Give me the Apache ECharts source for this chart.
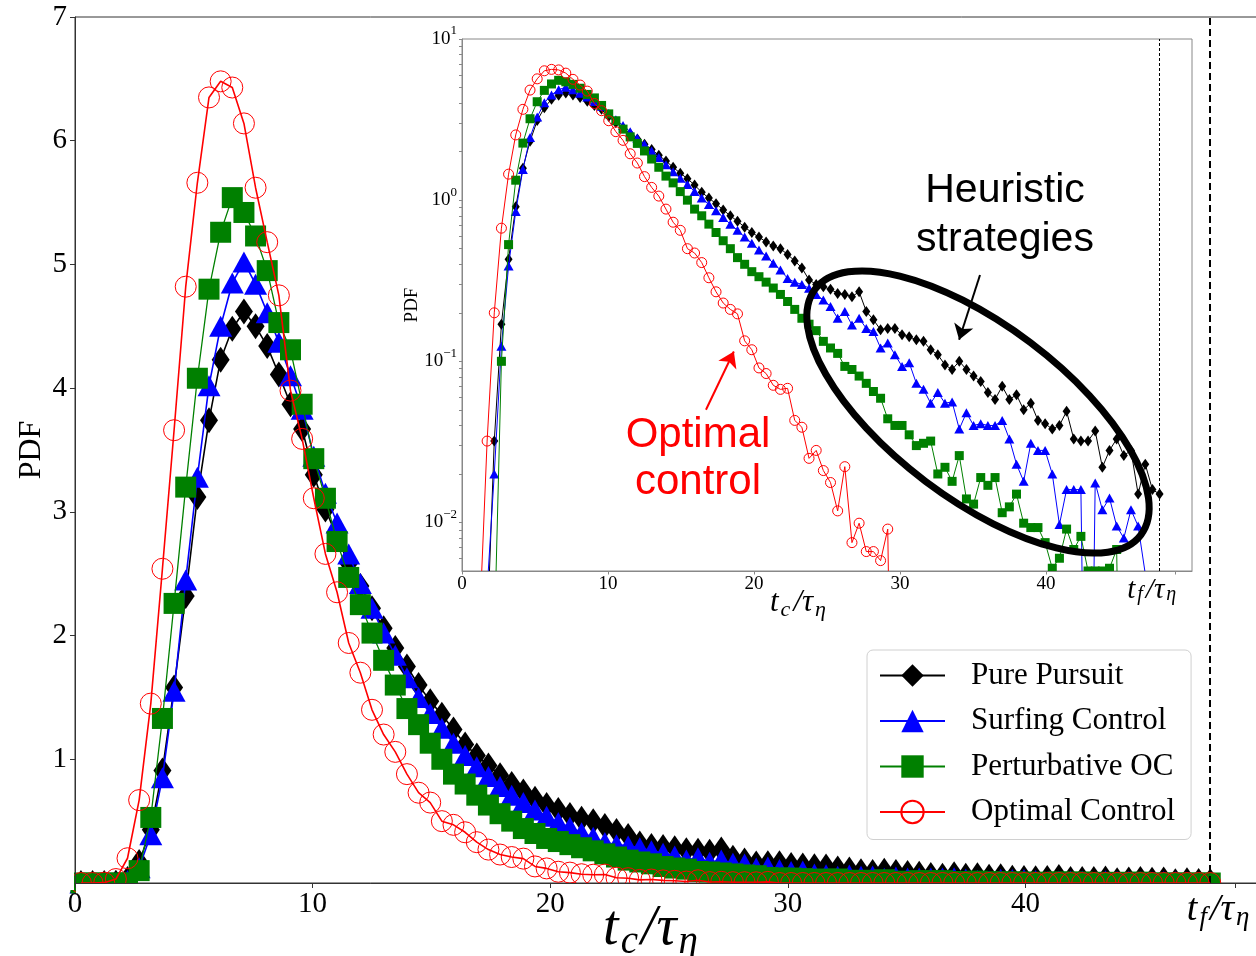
<!DOCTYPE html>
<html>
<head>
<meta charset="utf-8">
<script src="https://cdn.jsdelivr.net/npm/echarts@6/dist/echarts.min.js"></script>
<style>
  html, body { margin: 0; padding: 0; background: #fff; }
  #chart { width: 1256px; height: 956px; }
</style>
</head>
<body>
<div id="chart"></div>
<script>
// bin centres of the capture-time histogram (t_c / tau_eta)
const binCenters = [
  0.25, 0.74, 1.23, 1.72, 2.21, 2.70, 3.19, 3.68, 4.17, 4.66,
  5.15, 5.64, 6.13, 6.62, 7.11, 7.60, 8.09, 8.58, 9.07, 9.56,
  10.05, 10.54, 11.03, 11.52, 12.01, 12.50, 12.99, 13.48, 13.97, 14.46,
  14.95, 15.44, 15.93, 16.42, 16.91, 17.40, 17.89, 18.38, 18.87, 19.36,
  19.85, 20.34, 20.83, 21.32, 21.81, 22.30, 22.79, 23.28, 23.77, 24.26,
  24.75, 25.24, 25.73, 26.22, 26.71, 27.20, 27.69, 28.18, 28.67, 29.16,
  29.65, 30.14, 30.63, 31.12, 31.61, 32.10, 32.59, 33.08, 33.57, 34.06,
  34.55, 35.04, 35.53, 36.02, 36.51, 37.00, 37.49, 37.98, 38.47, 38.96,
  39.45, 39.94, 40.43, 40.92, 41.41, 41.90, 42.39, 42.88, 43.37, 43.86,
  44.35, 44.84, 45.33, 45.82, 46.31, 46.80, 47.29, 47.78
]

const purePursuit = [
  0, 0, 0, 0.002, 0.032, 0.17, 0.43, 0.91, 1.58, 2.32,
  3.12, 3.74, 4.23, 4.48, 4.62, 4.50, 4.34, 4.11, 3.87, 3.67,
  3.30, 3.02, 2.80, 2.58, 2.40, 2.22, 2.06, 1.90, 1.75, 1.60,
  1.47, 1.36, 1.24, 1.12, 1.03, 0.95, 0.87, 0.80, 0.74, 0.68,
  0.63, 0.59, 0.55, 0.52, 0.50, 0.46, 0.42, 0.38, 0.32, 0.30,
  0.29, 0.28, 0.264, 0.26, 0.252, 0.27, 0.204, 0.181, 0.157, 0.160,
  0.160, 0.146, 0.142, 0.136, 0.133, 0.118, 0.110, 0.095, 0.089, 0.100,
  0.089, 0.081, 0.075, 0.064, 0.058, 0.070, 0.058, 0.062, 0.050, 0.055,
  0.043, 0.041, 0.038, 0.040, 0.049, 0.033, 0.032, 0.032, 0.037, 0.022,
  0.028, 0.033, 0.026, 0.028, 0.015, 0.023, 0.016, 0.015
]

const surfingControl = [
  0, 0, 0, 0.0038, 0.020, 0.124, 0.39, 0.85, 1.55, 2.45,
  3.28, 4.02, 4.50, 4.85, 5.02, 4.84, 4.61, 4.37, 4.10, 3.83,
  3.45, 3.15, 2.91, 2.66, 2.42, 2.22, 2.02, 1.84, 1.66, 1.50,
  1.37, 1.25, 1.13, 1.03, 0.94, 0.86, 0.78, 0.71, 0.65, 0.59,
  0.54, 0.49, 0.45, 0.406, 0.369, 0.327, 0.31, 0.30, 0.284, 0.26,
  0.240, 0.219, 0.185, 0.204, 0.168, 0.185, 0.160, 0.153, 0.121, 0.130,
  0.110, 0.093, 0.098, 0.073, 0.067, 0.055, 0.064, 0.055, 0.056, 0.038,
  0.048, 0.040, 0.041, 0.040, 0.040, 0.043, 0.033, 0.023, 0.018, 0.031,
  0.028, 0.028, 0.020, 0.0097, 0.016, 0.016, 0.016, 0, 0.0176, 0.012,
  0.0142, 0.0095, 0.008, 0.012, 0.0095, 0.0048, 0, 0
]

const perturbativeOC = [
  0, 0, 0, 0, 0.0018, 0.10, 0.53, 1.33, 2.26, 3.20,
  4.08, 4.80, 5.26, 5.54, 5.42, 5.23, 4.95, 4.53, 4.31, 3.87,
  3.43, 3.11, 2.76, 2.47, 2.25, 2.02, 1.80, 1.60, 1.41, 1.28,
  1.13, 1.00, 0.88, 0.80, 0.71, 0.63, 0.56, 0.50, 0.44, 0.40,
  0.36, 0.335, 0.31, 0.285, 0.26, 0.235, 0.21, 0.185, 0.17, 0.155,
  0.133, 0.121, 0.112, 0.093, 0.089, 0.081, 0.073, 0.065, 0.059, 0.044,
  0.040, 0.040, 0.035, 0.030, 0.031, 0.032, 0.020, 0.022, 0.018, 0.026,
  0.014, 0.013, 0.019, 0.017, 0.019, 0.0115, 0.0125, 0.015, 0.0099, 0.0093,
  0.0093, 0.0075, 0.0052, 0.006, 0.0091, 0.0068, 0.0082, 0.005, 0.005, 0.005,
  0.0052, 0.0068, 0, 0, 0, 0, 0, 0
]

const optimalControl = [
  0, 0, 0.0027, 0.032, 0.20, 0.67, 1.45, 2.54, 3.66, 4.82,
  5.66, 6.35, 6.48, 6.43, 6.14, 5.62, 5.18, 4.75, 3.98, 3.59,
  3.11, 2.66, 2.35, 1.94, 1.70, 1.40, 1.20, 1.06, 0.88, 0.73,
  0.65, 0.50, 0.47, 0.41, 0.33, 0.27, 0.23, 0.21, 0.197, 0.134,
  0.118, 0.091, 0.084, 0.071, 0.067, 0.068, 0.043, 0.039, 0.025, 0.028,
  0.021, 0.0177, 0.0118, 0.0222, 0.0075, 0.0099, 0.0066, 0.0066, 0.0058, 0.0091,
  0, 0, 0, 0, 0, 0, 0, 0, 0, 0,
  0, 0, 0, 0, 0, 0, 0, 0, 0, 0,
  0, 0, 0, 0, 0, 0, 0, 0, 0, 0,
  0, 0, 0, 0, 0, 0, 0, 0
]

const seriesNames = ['Pure Pursuit', 'Surfing Control', 'Perturbative OC', 'Optimal Control']
const mainXTicks = [0, 10, 20, 30, 40, 48.85]
const insetXTicks = [0, 10, 20, 30, 40, 48.85]
const insetYLabels = [0.01, 0.1, 1, 10]
const insetYTickMarks = [
  0.006, 0.007, 0.008, 0.009, 0.01, 0.02, 0.03, 0.04, 0.05, 0.06, 0.07, 0.08, 0.09,
  0.1, 0.2, 0.3, 0.4, 0.5, 0.6, 0.7, 0.8, 0.9, 1, 2, 3, 4, 5, 6, 7, 8, 9, 10
]
const tfTick = 48.85
const tfLine = 47.75
// annotation arrows in inset data coordinates: [x, pdf]
const heuristicArrow = [[35.48, 0.343], [34.05, 0.136]]
const optimalArrow = [[16.71, 0.0501], [18.62, 0.115]]

const serif = 'Liberation Serif'
const colors = ['#000000', '#0000ff', '#008000', '#ff0000']
const allValues = [purePursuit, surfingControl, perturbativeOC, optimalControl]
const logFloor = 1e-5

const mainMarkers = [
  { symbol: 'diamond', size: [18, 26] },
  { symbol: 'triangle', size: [23, 21] },
  { symbol: 'rect', size: [21, 21] },
  { symbol: 'circle', size: [21, 21] }
]
const insetMarkers = [
  { symbol: 'diamond', size: [8, 11] },
  { symbol: 'triangle', size: [10, 9] },
  { symbol: 'rect', size: [9, 9] },
  { symbol: 'circle', size: [10, 10] }
]

// rich styles for "t_c / tau_eta" style labels; n is for plain numbers, e pads the right side
const mathRich = (big, small, shift, num, tail) => ({
  i: { fontFamily: serif, fontStyle: 'italic', fontSize: big, color: '#000', padding: [0, 1, 0, 1] },
  s: { fontFamily: serif, fontStyle: 'italic', fontSize: small, color: '#000', padding: [shift * 2, 2, 0, 1] },
  n: { fontFamily: serif, fontSize: num || big, color: '#000' },
  e: { width: tail || 0, fontSize: small }
})
const tcLabel = '{i|t}{s|c}{i|/τ}{s|η}'
const tfLabel = '{i|t}{s|f}{i|/τ}{s|η}{e| }'

const buildSeries = (values, k, inset) => {
  const mk = inset ? insetMarkers[k] : mainMarkers[k]
  const hollow = k === 3
  const data = binCenters.map((x, i) => [x, inset ? (values[i] > 0 ? values[i] : logFloor) : values[i]])
  return {
    type: 'line',
    name: seriesNames[k],
    xAxisIndex: inset ? 1 : 0,
    yAxisIndex: inset ? 1 : 0,
    data,
    symbol: mk.symbol,
    symbolSize: mk.size,
    showAllSymbol: true,
    clip: true,
    z: 2 + k,
    lineStyle: { color: colors[k], width: inset ? 1 : (k === 2 ? 1.3 : 1.6) },
    itemStyle: hollow
      ? { color: 'rgba(255,255,255,0)', borderColor: colors[k], borderWidth: 1 }
      : { color: colors[k], borderColor: colors[k], borderWidth: 0 },
    emphasis: { disabled: true },
    animation: false
  }
}

const series = []
allValues.forEach((v, k) => series.push(buildSeries(v, k, false)))
allValues.forEach((v, k) => series.push(buildSeries(v, k, true)))

// vertical t_f lines and the two annotation arrows
series[0].markLine = {
  silent: true, symbol: 'none', animation: false,
  label: { show: false },
  lineStyle: { color: '#000', type: [7, 4], width: 2 },
  data: [{ xAxis: tfLine }]
}
series[4].markLine = {
  silent: true, symbol: ['none', 'arrow'], symbolSize: 15, animation: false,
  label: { show: false },
  lineStyle: { color: '#000', width: 2, type: 'solid' },
  data: [
    [{ xAxis: tfLine, yAxis: 0.005, symbol: 'none', lineStyle: { type: [3, 2], width: 1 } },
     { xAxis: tfLine, yAxis: 10, symbol: 'none' }],
    [{ coord: heuristicArrow[0] }, { coord: heuristicArrow[1] }]
  ]
}
series[7].markLine = {
  silent: true, symbol: ['none', 'arrow'], symbolSize: 15, animation: false,
  label: { show: false },
  lineStyle: { color: '#ff0000', width: 2, type: 'solid' },
  data: [[{ coord: optimalArrow[0] }, { coord: optimalArrow[1] }]]
}

const chart = echarts.init(document.getElementById('chart'))
chart.setOption({
  backgroundColor: '#fff',
  animation: false,
  grid: [
    { left: 75, top: 17, width: 1188, height: 866, outerBoundsMode: 'none', containLabel: false, show: true, borderColor: '#333', borderWidth: 1, backgroundColor: '#fff' },
    { left: 462, top: 39, width: 730, height: 532, outerBoundsMode: 'none', containLabel: false, show: true, borderColor: '#888', borderWidth: 1, backgroundColor: '#fff' }
  ],
  xAxis: [
    {
      type: 'value', gridIndex: 0, min: 0, max: 50, z: 10,
      splitLine: { show: false },
      axisLine: { lineStyle: { color: '#333', width: 1 } },
      axisTick: { customValues: mainXTicks, length: 5, lineStyle: { color: '#333' } },
      axisLabel: {
        customValues: mainXTicks, margin: 7, color: '#000', hideOverlap: false,
        formatter: v => Math.abs(v - tfTick) < 1e-6 ? tfLabel : '{n|' + v + '}',
        rich: mathRich(38, 27, 7, 29, 34)
      },
      name: tcLabel, nameLocation: 'middle', nameGap: 14, nameMoveOverlap: false,
      nameTextStyle: { padding: [0, 36, 0, 0], rich: mathRich(56, 39, 13) }
    },
    {
      type: 'value', gridIndex: 1, min: 0, max: 50, z: 10,
      splitLine: { show: false },
      axisLine: { lineStyle: { color: '#888', width: 1 } },
      axisTick: { customValues: insetXTicks, length: 3.5, lineStyle: { color: '#888' } },
      axisLabel: {
        customValues: insetXTicks, margin: 4, color: '#000', hideOverlap: false,
        formatter: v => Math.abs(v - tfTick) < 1e-6 ? tfLabel : '{n|' + v + '}',
        rich: mathRich(29, 20, 5, 19, 46)
      },
      name: tcLabel, nameLocation: 'middle', nameGap: 14, nameMoveOverlap: false,
      nameTextStyle: { padding: [0, 57, 0, 0], rich: mathRich(31, 22, 7) }
    }
  ],
  yAxis: [
    {
      type: 'value', gridIndex: 0, min: 0, max: 7, interval: 1, z: 10,
      splitLine: { show: false },
      axisLine: { lineStyle: { color: '#333', width: 1 } },
      axisTick: { length: 5, lineStyle: { color: '#333' } },
      axisLabel: { showMinLabel: false, margin: 8, fontFamily: serif, fontSize: 29, color: '#000' },
      name: 'PDF', nameLocation: 'middle', nameGap: 27, nameRotate: 90, nameMoveOverlap: false,
      nameTextStyle: { fontFamily: serif, fontSize: 32, color: '#000' }
    },
    {
      type: 'log', logBase: 10, gridIndex: 1, min: 0.005, max: 10, z: 10,
      splitLine: { show: false },
      axisLine: { lineStyle: { color: '#888', width: 1 } },
      axisTick: { customValues: insetYTickMarks, length: 3, lineStyle: { color: '#888' } },
      axisLabel: {
        customValues: insetYLabels, margin: 5,
        formatter: v => {
          const e = Math.round(Math.log10(v))
          return '{b|10}{p|' + (e < 0 ? '\u2212' + (-e) : e) + '}'
        },
        rich: {
          b: { fontFamily: serif, fontSize: 19, color: '#000' },
          p: { fontFamily: serif, fontSize: 13, color: '#000', padding: [0, 0, 16, 0] }
        }
      },
      name: 'PDF', nameLocation: 'middle', nameGap: 40, nameRotate: 90, nameMoveOverlap: false,
      nameTextStyle: { fontFamily: serif, fontSize: 19, color: '#000' }
    }
  ],
  legend: {
    data: seriesNames,
    orient: 'vertical',
    left: 867, top: 650,
    itemWidth: 65, itemHeight: 28, itemGap: 14.5,
    padding: [10, 16, 12, 12],
    backgroundColor: 'rgba(255,255,255,0.85)',
    borderColor: '#d0d0d0', borderWidth: 1, borderRadius: 6,
    selectedMode: false,
    textStyle: { fontFamily: serif, fontSize: 31, color: '#000', lineHeight: 31, padding: [0, 0, 0, 21] },
    z: 20
  },
  graphic: [
    // white strips that trim the half of the markers lying outside the axes
    { type: 'rect', z: 8, silent: true, shape: { x: 76, y: 884, width: 1180, height: 14 }, style: { fill: '#fff' } },
    { type: 'rect', z: 8, silent: true, shape: { x: 58, y: 850, width: 16, height: 40 }, style: { fill: '#fff' } },
    { type: 'rect', z: 8, silent: true, shape: { x: 463, y: 572, width: 728, height: 7 }, style: { fill: '#fff' } },
    {
      type: 'ellipse', z: 30, silent: true, x: 978, y: 412, rotation: -37 * Math.PI / 180,
      shape: { cx: 0, cy: 0, rx: 204, ry: 87 },
      style: { fill: 'none', stroke: '#000', lineWidth: 7 }
    },
    {
      type: 'text', z: 30, silent: true, x: 1005, y: 215,
      style: { text: 'Heuristic\nstrategies', font: '41px "Liberation Sans"', fill: '#000', textAlign: 'center', textVerticalAlign: 'middle', lineHeight: 49 }
    },
    {
      type: 'text', z: 30, silent: true, x: 698, y: 459,
      style: { text: 'Optimal\ncontrol', font: '42px "Liberation Sans"', fill: '#ff0000', textAlign: 'center', textVerticalAlign: 'middle', lineHeight: 47 }
    }
  ],
  series
})
</script>
</body>
</html>
